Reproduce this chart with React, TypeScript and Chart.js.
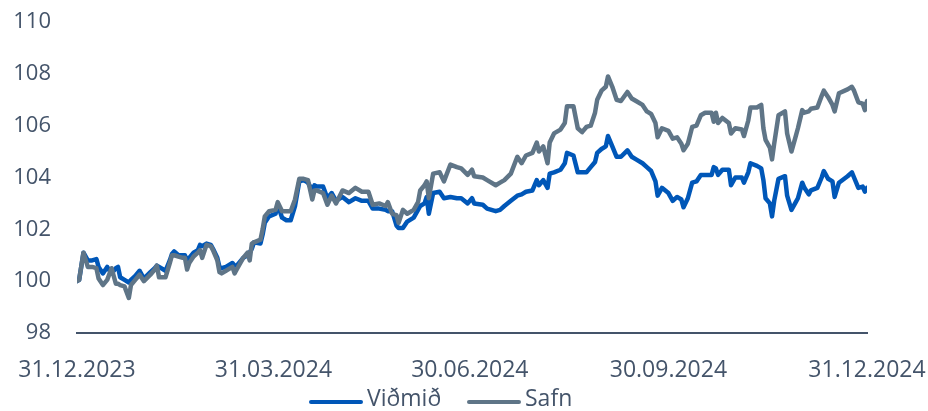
import React, { useEffect, useRef } from "react";
import { Chart, registerables } from "chart.js";

Chart.register(...registerables);

// Days after 31.12.2023
const dayOffsets = [
  0, 1, 3, 5, 7, 9, 10, 12, 14, 16,
  18, 19, 20, 22, 24, 25, 27, 29, 31, 34,
  36, 37, 38, 41, 43, 44, 45, 47, 49, 50,
  51, 52, 54, 56, 57, 58, 60, 62, 63, 65,
  66, 67, 69, 72, 73, 74, 77, 79, 80, 81,
  82, 85, 86, 87, 89, 92, 93, 95, 97, 99,
  101, 103, 105, 107, 109, 110, 111, 114, 116, 118,
  120, 123, 126, 129, 132, 135, 137, 140, 143, 144,
  146, 148, 149, 151, 153, 156, 158, 159, 161, 162,
  163, 165, 168, 170, 173, 176, 178, 181, 183, 184,
  188, 190, 194, 196, 198, 201, 204, 206, 208, 211,
  213, 214, 216, 218, 219, 221, 224, 226, 227, 230,
  232, 234, 236, 238, 240, 241, 243, 245, 246, 248,
  250, 252, 255, 257, 259, 262, 264, 266, 268, 269,
  271, 274, 276, 278, 280, 281, 283, 285, 287, 289,
  291, 294, 295, 296, 297, 299, 302, 303, 305, 308,
  309, 311, 312, 315, 317, 318, 319, 321, 322, 323,
  325, 328, 329, 331, 333, 334, 336, 337, 339, 340,
  343, 345, 346, 348, 350, 351, 353, 357, 359, 360,
  362, 364, 365, 366,
];

const vidmid = [
  100.0, 100.05, 101.1, 100.8, 100.8, 100.85, 100.55, 100.3, 100.55, 100.3,
  100.5, 100.55, 100.15, 100.05, 99.95, 100.05, 100.2, 100.4, 100.1, 100.35,
  100.5, 100.6, 100.55, 100.4, 100.8, 101.05, 101.15, 101.0, 101.0, 101.0,
  100.8, 100.9, 101.1, 101.2, 101.4, 101.35, 101.45, 101.4, 101.25, 100.9,
  100.55, 100.5, 100.55, 100.7, 100.6, 100.6, 100.9, 101.0, 101.1, 101.25,
  101.5, 101.45, 101.8, 102.25, 102.5, 102.6, 102.95, 102.45, 102.35, 102.35,
  102.9, 103.85, 103.9, 103.8, 103.5, 103.7, 103.65, 103.65, 103.2, 103.4,
  103.1, 103.25, 103.05, 103.2, 103.1, 103.1, 102.8, 102.8, 102.75, 102.7,
  102.7, 102.15, 102.05, 102.05, 102.3, 102.45, 102.75, 102.9, 103.0, 103.25,
  102.6, 103.4, 103.45, 103.2, 103.25, 103.2, 103.2, 103.0, 103.2, 103.0,
  102.95, 102.8, 102.7, 102.75, 102.9, 103.1, 103.3, 103.35, 103.45, 103.5,
  103.9, 103.7, 103.9, 103.6, 104.15, 104.2, 104.3, 104.55, 104.95, 104.85,
  104.2, 104.2, 104.2, 104.4, 104.6, 104.95, 105.1, 105.2, 105.6, 105.2,
  104.8, 104.8, 105.05, 104.8, 104.7, 104.55, 104.4, 104.25, 103.85, 103.3,
  103.6, 103.4, 103.1, 103.25, 103.15, 102.85, 103.2, 103.8, 103.85, 104.1,
  104.1, 104.1, 104.4, 104.35, 104.1, 104.3, 104.3, 103.7, 104.0, 104.0,
  103.8, 104.2, 104.55, 104.45, 104.35, 103.9, 103.2, 103.0, 102.5, 103.1,
  103.95, 104.05, 103.3, 102.75, 103.05, 103.2, 103.8, 103.6, 103.35, 103.5,
  103.6, 104.0, 104.25, 103.95, 103.85, 103.25, 103.8, 104.05, 104.2, 104.0,
  103.6, 103.65, 103.45, 103.6,
];

const safn = [
  100.0, 100.05, 101.1, 100.55, 100.55, 100.5, 100.1, 99.85, 100.05, 100.5,
  99.9, 99.9, 99.85, 99.8, 99.35, 99.85, 100.05, 100.25, 100.0, 100.25,
  100.45, 100.6, 100.15, 100.15, 100.7, 101.0, 101.0, 100.95, 100.9, 100.9,
  100.45, 100.7, 100.95, 101.1, 101.2, 100.9, 101.4, 101.35, 101.2, 100.8,
  100.35, 100.3, 100.4, 100.55, 100.3, 100.45, 100.9, 101.1, 100.8, 101.45,
  101.5, 101.6, 102.0, 102.5, 102.7, 102.75, 103.05, 102.7, 102.7, 102.7,
  103.15, 103.95, 103.95, 103.9, 103.15, 103.5, 103.5, 103.4, 102.95, 103.3,
  103.0, 103.5, 103.4, 103.6, 103.45, 103.45, 102.95, 103.0, 102.9, 103.05,
  102.6, 102.55, 102.25, 102.75, 102.6, 102.75, 103.05, 103.5, 103.7, 103.85,
  103.2, 104.15, 104.2, 103.85, 104.5, 104.4, 104.35, 104.1, 104.3, 104.05,
  104.0, 103.9, 103.7, 103.8, 103.9, 104.15, 104.8, 104.55, 104.85, 104.95,
  105.35, 105.0, 105.2, 104.55, 105.35, 105.7, 105.85, 106.1, 106.75, 106.75,
  105.9, 105.75, 105.95, 106.0, 106.5, 107.0, 107.35, 107.5, 107.9, 107.5,
  107.0, 106.95, 107.3, 107.05, 106.95, 106.8, 106.55, 106.45, 106.1, 105.55,
  105.9, 105.8, 105.5, 105.55, 105.3, 105.05, 105.3, 105.95, 106.0, 106.4,
  106.5, 106.5, 106.15, 106.5, 106.1, 106.3, 106.1, 105.7, 105.9, 105.85,
  105.6, 106.2, 106.7, 106.7, 106.8, 105.9, 105.45, 105.15, 104.7, 105.3,
  106.4, 106.55, 105.7, 105.0, 105.6, 105.9, 106.6, 106.5, 106.55, 106.65,
  106.7, 107.15, 107.35, 107.1, 106.8, 106.55, 107.25, 107.4, 107.5, 107.35,
  106.9, 106.85, 106.6, 106.95,
];

const tickDays = [0, 91, 182, 274, 366];
const tickLabels = ["31.12.2023", "31.03.2024", "30.06.2024", "30.09.2024", "31.12.2024"];
const seriesNames = ["Viðmið", "Safn"];
const seriesColors = ["#0057B8", "#5F7587"];

const TEXT = "#44546A";
const FONT = "'Open Sans', sans-serif";

const zeroPadding = (s: any) => {
  s.paddingTop = 0;
  s.paddingBottom = 0;
  s.paddingLeft = 0;
  s.paddingRight = 0;
};

export default function App() {
  const ref = useRef<HTMLCanvasElement | null>(null);

  useEffect(() => {
    if (!ref.current) return;
    const toPoints = (vals: number[]) => vals.map((v, i) => ({ x: dayOffsets[i], y: v }));
    const chart = new Chart(ref.current, {
      type: "line",
      data: {
        datasets: [
          {
            label: seriesNames[0],
            data: toPoints(vidmid),
            borderColor: seriesColors[0],
            backgroundColor: seriesColors[0],
            borderWidth: 4.5,
            pointRadius: 0,
            pointHoverRadius: 0,
            pointBorderWidth: 0,
            tension: 0,
            borderJoinStyle: "round",
            borderCapStyle: "round",
            order: 1,
          },
          {
            label: seriesNames[1],
            data: toPoints(safn),
            borderColor: seriesColors[1],
            backgroundColor: seriesColors[1],
            borderWidth: 4.5,
            pointRadius: 0,
            pointHoverRadius: 0,
            pointBorderWidth: 0,
            tension: 0,
            borderJoinStyle: "round",
            borderCapStyle: "round",
            order: 0,
          },
        ],
      },
      options: {
        animation: false,
        responsive: false,
        maintainAspectRatio: false,
        layout: { autoPadding: false, padding: { top: 22, right: 61, left: 0, bottom: 0 } },
        plugins: { legend: { display: false }, tooltip: { enabled: false } },
        scales: {
          x: {
            type: "linear",
            min: 0,
            max: 366,
            grid: { display: false, drawTicks: false },
            border: { display: true, color: TEXT, width: 2 },
            ticks: {
              autoSkip: false,
              maxRotation: 0,
              padding: 24,
              color: TEXT,
              font: { family: FONT, size: 23 },
              callback: (v: any) => {
                const i = tickDays.indexOf(Number(v));
                return i >= 0 ? tickLabels[i] : "";
              },
            },
            afterBuildTicks: (s: any) => {
              s.ticks = tickDays.map((v) => ({ value: v }));
            },
            afterFit: (s: any) => {
              s.height = 78;
              zeroPadding(s);
            },
          },
          y: {
            min: 98,
            max: 110,
            grid: { display: false, drawTicks: false },
            border: { display: false },
            ticks: {
              stepSize: 2,
              padding: 26,
              color: TEXT,
              font: { family: FONT, size: 22 },
            },
            afterFit: (s: any) => {
              s.width = 77;
              zeroPadding(s);
            },
          },
        },
      },
    });
    return () => chart.destroy();
  }, []);

  const legendText: React.CSSProperties = {
    position: "absolute",
    top: 386,
    fontFamily: FONT,
    fontSize: 23,
    lineHeight: "23px",
    color: TEXT,
    whiteSpace: "nowrap",
  };
  const legendLine = (left: number, color: string): React.CSSProperties => ({
    position: "absolute",
    left,
    top: 400,
    width: 54,
    height: 4,
    borderRadius: 2,
    background: color,
  });

  return (
    <div style={{ position: "fixed", left: 0, top: 0, width: 928, height: 411, background: "#fff" }}>
      <canvas ref={ref} width={928} height={411} style={{ display: "block" }} />
      <div style={legendLine(309, seriesColors[0])} />
      <div style={{ ...legendText, left: 367 }}>{seriesNames[0]}</div>
      <div style={legendLine(467, seriesColors[1])} />
      <div style={{ ...legendText, left: 525 }}>{seriesNames[1]}</div>
    </div>
  );
}
